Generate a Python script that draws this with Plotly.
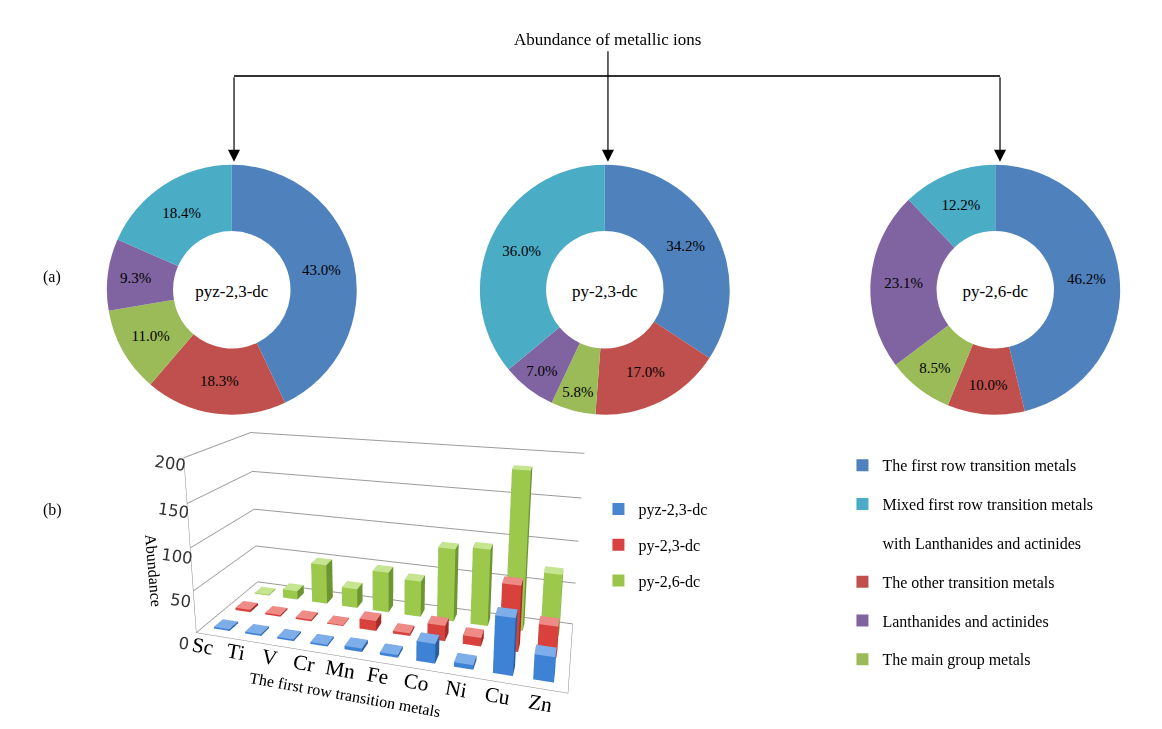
import plotly.graph_objects as go
import numpy as np

# ---------------- data ----------------
pie_labels = ["The first row transition metals", "The other transition metals",
              "The main group metals", "Lanthanides and actinides",
              "Mixed first row transition metals with Lanthanides and actinides"]
pie_colors = ["#4F81BD", "#C0504D", "#9BBB59", "#8064A2", "#4BACC6"]
pie_names = ["pyz-2,3-dc", "py-2,3-dc", "py-2,6-dc"]
pie_pyz23 = [43.0, 18.3, 11.0, 9.3, 18.4]
pie_py23 = [34.2, 17.0, 5.8, 7.0, 36.0]
pie_py26 = [46.2, 10.0, 8.5, 23.1, 12.2]

legend2_labels = ["The first row transition metals",
                  "Mixed first row transition metals",
                  "with Lanthanides and actinides",
                  "The other transition metals", "Lanthanides and actinides",
                  "The main group metals"]
legend2_colors = ["#4F81BD", "#4BACC6", "rgba(0,0,0,0)", "#C0504D", "#8064A2", "#9BBB59"]

metals = ["Sc", "Ti", "V", "Cr", "Mn", "Fe", "Co", "Ni", "Cu", "Zn"]
bar_series = ["pyz-2,3-dc", "py-2,3-dc", "py-2,6-dc"]
bar_pyz23 = [2, 2, 2, 2, 4, 3, 22, 5, 62, 27]
bar_py23 = [3, 2, 2, 1, 12, 3, 18, 10, 75, 35]
bar_py26 = [1, 11, 50, 24, 50, 44, 88, 92, 185, 72]
z_ticks = [0, 50, 100, 150, 200]

# ---------------- styles ----------------
SERIF = "Liberation Serif"
bar_front = ["#3E82D6", "#D9413C", "#9CC84C"]
bar_side = ["#2B5E9E", "#A12D29", "#6E9532"]
bar_top = ["#7EAEEA", "#EE8B87", "#C6E590"]
bar_leg = ["#4A86D0", "#D94040", "#9BC54A"]

fig = go.Figure()

# ---------------- donuts ----------------
pie_sets = [pie_pyz23, pie_py23, pie_py26]
pie_dom_x = [[0.092, 0.307], [0.413, 0.628], [0.749, 0.964]]
for name, vals, dx in zip(pie_names, pie_sets, pie_dom_x):
    fig.add_trace(go.Pie(
        labels=pie_labels, values=vals, sort=False, direction="clockwise",
        rotation=0, hole=0.47,
        marker=dict(colors=pie_colors, line=dict(width=0)),
        texttemplate="%{value:.1f}%", textposition="inside",
        insidetextorientation="horizontal",
        textfont=dict(family=SERIF, size=15, color="black"),
        title=dict(text=name, position="middle center",
                   font=dict(family=SERIF, size=17, color="black")),
        domain=dict(x=dx, y=[0.431, 0.774]),
        showlegend=False, hoverinfo="label+percent"))

# ---------------- 3D bars ----------------
bw, bd = 0.5, 0.4
for s, vals in enumerate([bar_pyz23, bar_py23, bar_py26]):
    X, Y, Z, I, J, K, FC = [], [], [], [], [], [], []
    for i, v in enumerate(vals):
        x0, x1 = i - bw / 2, i + bw / 2
        y0, y1 = s - bd / 2, s + bd / 2
        base = len(X)
        for (xx, yy, zz) in [(x0, y0, 0), (x1, y0, 0), (x1, y1, 0), (x0, y1, 0),
                             (x0, y0, v), (x1, y0, v), (x1, y1, v), (x0, y1, v)]:
            X.append(xx); Y.append(yy); Z.append(zz)
        faces = [((0, 1, 5), bar_front[s]), ((0, 5, 4), bar_front[s]),
                 ((1, 2, 6), bar_side[s]), ((1, 6, 5), bar_side[s]),
                 ((4, 5, 6), bar_top[s]), ((4, 6, 7), bar_top[s]),
                 ((3, 7, 6), bar_side[s]), ((3, 6, 2), bar_side[s]),
                 ((0, 4, 7), bar_side[s]), ((0, 7, 3), bar_side[s]),
                 ((0, 3, 2), bar_side[s]), ((0, 2, 1), bar_side[s])]
        for (a, b, c), col in faces:
            I.append(base + a); J.append(base + b); K.append(base + c); FC.append(col)
    fig.add_trace(go.Mesh3d(
        x=X, y=Y, z=Z, i=I, j=J, k=K, facecolor=FC, flatshading=True,
        lighting=dict(ambient=1, diffuse=0, specular=0, roughness=1, fresnel=0),
        showscale=False, showlegend=False, name=bar_series[s], scene="scene",
        hoverinfo="skip"))

# ---------------- legends (dummy traces) ----------------
for k, (nm, col) in enumerate(zip(bar_series, bar_leg)):
    fig.add_trace(go.Scatter(x=[None], y=[None], mode="markers", name=nm,
                             marker=dict(symbol="square", size=10, color=col),
                             legend="legend", legendgroup="b%d" % k))
for k, (nm, col) in enumerate(zip(legend2_labels, legend2_colors)):
    fig.add_trace(go.Scatter(x=[None], y=[None], mode="markers", name=nm,
                             marker=dict(symbol="square", size=10, color=col),
                             legend="legend2", legendgroup="p%d" % k))

# camera direction: azimuth ~17 deg, elevation ~13 deg
az, el, dist = np.radians(17), np.radians(13), 1.75
cz = 0.25
eye = dict(x=float(np.sin(az) * np.cos(el) * dist),
           y=float(-np.cos(az) * np.cos(el) * dist),
           z=float(np.sin(el) * dist + cz))

axis_common = dict(showbackground=False, showspikes=False)
fig.update_layout(
    width=1162, height=729, margin=dict(l=0, r=0, t=0, b=0),
    paper_bgcolor="white", plot_bgcolor="rgba(0,0,0,0)",
    xaxis=dict(visible=False, domain=[0.99, 1.0]),
    yaxis=dict(visible=False, domain=[0.99, 1.0]),
    font=dict(family=SERIF, color="black"),
    uniformtext=dict(minsize=15, mode="show"),
    scene=dict(
        domain=dict(x=[0.0, 0.666], y=[0.0, 0.75]),
        bgcolor="rgba(0,0,0,0)",
        aspectmode="manual", aspectratio=dict(x=1, y=0.36, z=0.5),
        camera=dict(eye=eye, center=dict(x=0, y=0, z=cz), up=dict(x=0, y=0, z=1)),
        xaxis=dict(tickvals=list(range(len(metals))), ticktext=metals,
                   range=[-0.6, len(metals) - 0.4], showgrid=False,
                   title=dict(text="The first row transition metals",
                              font=dict(family=SERIF, size=16)),
                   tickfont=dict(family=SERIF, size=16), showline=True,
                   tickangle=10,
                   linecolor="#888", zeroline=False, **axis_common),
        yaxis=dict(range=[-0.5, 2.5], showticklabels=False, showgrid=False,
                   title=dict(text=""), showline=True, linecolor="#888",
                   zeroline=False, **axis_common),
        zaxis=dict(range=[0, 200], tickvals=z_ticks, showgrid=True,
                   gridcolor="#9a9a9a", title=dict(text="Abundance",
                                                   font=dict(family=SERIF, size=16)),
                   tickfont=dict(family="DejaVu Sans", size=14, color="#333"),
                   tickangle=8,
                   showline=True, linecolor="#888", zeroline=False, **axis_common),
    ),
    legend=dict(x=0.515, y=0.325, xanchor="left", yanchor="top",
                font=dict(family=SERIF, size=16), tracegroupgap=12,
                itemsizing="constant", bgcolor="rgba(0,0,0,0)"),
    legend2=dict(x=0.725, y=0.385, xanchor="left", yanchor="top",
                 font=dict(family=SERIF, size=16), tracegroupgap=15,
                 itemsizing="constant", bgcolor="rgba(0,0,0,0)"),
)

# ---------------- title, connector lines and arrows ----------------
fig.add_annotation(text="Abundance of metallic ions", x=0.5232, y=0.962,
                   xref="paper", yref="paper", showarrow=False,
                   font=dict(family=SERIF, size=17))
fig.add_shape(type="line", xref="paper", yref="paper", x0=0.2014, x1=0.8606,
              y0=0.8957, y1=0.8957, line=dict(color="#333", width=2))
for xp, ay in [(0.2014, -86), (0.5232, -112), (0.8606, -86)]:
    fig.add_annotation(x=xp, y=0.778, xref="paper", yref="paper", text="",
                       showarrow=True, ax=0, ay=ay, arrowhead=2, arrowsize=2,
                       arrowwidth=1.2, arrowcolor="black")
fig.add_annotation(text="(a)", x=0.035, y=0.62, xref="paper", yref="paper",
                   showarrow=False, font=dict(family=SERIF, size=16))
fig.add_annotation(text="(b)", x=0.035, y=0.285, xref="paper", yref="paper",
                   showarrow=False, font=dict(family=SERIF, size=16))

fig.write_html("out.html")
